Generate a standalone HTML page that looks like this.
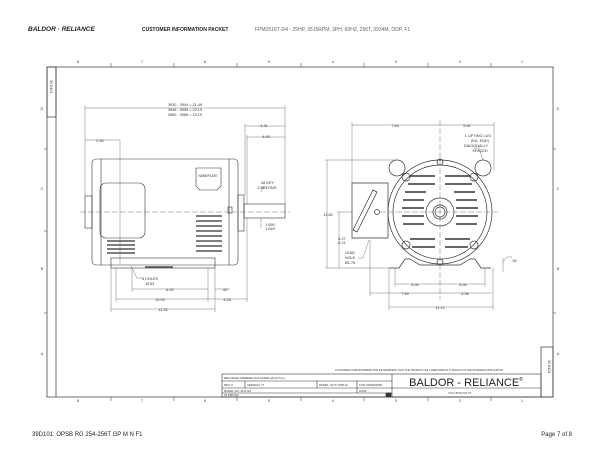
<!DOCTYPE html>
<html><head><meta charset="utf-8"><style>
html,body{margin:0;padding:0;background:#fff;}
svg{display:block;font-family:"Liberation Sans",sans-serif;}
</style></head><body>
<svg width="600" height="464" viewBox="0 0 600 464" xmlns="http://www.w3.org/2000/svg">
<!-- header -->
<text x="28" y="31" font-size="6.5" font-weight="bold" fill="#222" font-style="italic">BALDOR · RELIANCE</text>
<text x="142" y="31" font-size="5" font-weight="bold" fill="#222">CUSTOMER INFORMATION PACKET</text>
<text x="255" y="31" font-size="5" fill="#666">FPM2516T-2/4 - 25HP, 3515RPM, 3PH, 60HZ, 256T, 3934M, ODP, F1</text>
<!-- frame -->
<g stroke="#333" fill="none" stroke-width="0.7">
<rect x="47" y="67" width="506" height="330"/>
<line x1="56" y1="67" x2="56" y2="397"/>
<rect x="47" y="67" width="9" height="50"/>
<rect x="541" y="347" width="12" height="50"/>
</g>
<g stroke="#333" stroke-width="0.5">
<line x1="111" y1="63" x2="111" y2="67"/><line x1="174" y1="63" x2="174" y2="67"/><line x1="237" y1="63" x2="237" y2="67"/><line x1="301" y1="63" x2="301" y2="67"/><line x1="364" y1="63" x2="364" y2="67"/><line x1="428" y1="63" x2="428" y2="67"/><line x1="491" y1="63" x2="491" y2="67"/>
<line x1="111" y1="397" x2="111" y2="401"/><line x1="174" y1="397" x2="174" y2="401"/><line x1="237" y1="397" x2="237" y2="401"/><line x1="301" y1="397" x2="301" y2="401"/><line x1="364" y1="397" x2="364" y2="401"/><line x1="428" y1="397" x2="428" y2="401"/><line x1="491" y1="397" x2="491" y2="401"/>
<line x1="44" y1="149" x2="47" y2="149"/><line x1="44" y1="231" x2="47" y2="231"/><line x1="44" y1="313" x2="47" y2="313"/>
<line x1="553" y1="149" x2="556" y2="149"/><line x1="553" y1="231" x2="553" y2="231"/><line x1="553" y1="313" x2="556" y2="313"/>
</g>
<g font-size="4" fill="#444" text-anchor="middle">
<text x="78" y="63">8</text><text x="142" y="63">7</text><text x="205" y="63">6</text><text x="269" y="63">5</text><text x="333" y="63">4</text><text x="396" y="63">3</text><text x="460" y="63">2</text><text x="522" y="63">1</text>
<text x="78" y="402">8</text><text x="142" y="402">7</text><text x="205" y="402">6</text><text x="269" y="402">5</text><text x="333" y="402">4</text><text x="396" y="402">3</text><text x="460" y="402">2</text><text x="522" y="402">1</text>
<text x="42" y="110">D</text><text x="42" y="190">C</text><text x="42" y="270">B</text><text x="42" y="355">A</text>
<text x="558" y="110">D</text><text x="558" y="190">C</text><text x="558" y="270">B</text><text x="558" y="355">A</text>
</g>
<!-- left view -->
<g stroke="#333" fill="none" stroke-width="0.6">
<rect x="92" y="159" width="146" height="106" rx="4"/>
<line x1="101" y1="159" x2="101" y2="265"/><line x1="229" y1="159" x2="229" y2="265"/>
<rect x="85" y="196" width="7" height="32"/>
<rect x="238" y="195" width="6" height="36"/>
<rect x="244" y="204" width="41" height="14"/>
<rect x="100" y="183" width="45" height="55" rx="6"/>
<path d="M196 168 h25 v18 l-4 4 h-17 l-4 -4z"/>
<rect x="111" y="258" width="104" height="10"/>
<rect x="228" y="207" width="4" height="6"/>
</g>
<g stroke="#333" stroke-width="1.2">
<line x1="196" y1="216" x2="222" y2="216"/><line x1="196" y1="221" x2="222" y2="221"/><line x1="196" y1="226" x2="222" y2="226"/><line x1="196" y1="231" x2="222" y2="231"/><line x1="196" y1="236" x2="222" y2="236"/><line x1="196" y1="241" x2="222" y2="241"/><line x1="196" y1="246" x2="222" y2="246"/><line x1="196" y1="251" x2="222" y2="251"/>
<line x1="107" y1="241" x2="135" y2="241"/><line x1="107" y1="245" x2="135" y2="245"/><line x1="107" y1="249" x2="135" y2="249"/><line x1="107" y1="253" x2="135" y2="253"/>
<line x1="145" y1="267" x2="173" y2="267"/>
</g>
<g stroke="#555" stroke-width="0.4" fill="none">
<line x1="80" y1="212" x2="290" y2="212" stroke-dasharray="6,2"/>
<line x1="120" y1="140" x2="120" y2="265"/>
<line x1="85" y1="108" x2="285" y2="108"/><line x1="85" y1="105" x2="85" y2="196"/><line x1="285" y1="105" x2="285" y2="204"/>
<line x1="85" y1="140" x2="120" y2="140"/>
<line x1="245" y1="126" x2="285" y2="126"/><line x1="247" y1="137" x2="285" y2="137"/>
<line x1="245" y1="124" x2="245" y2="195"/><line x1="247" y1="135" x2="247" y2="204"/>
<line x1="132" y1="289" x2="208" y2="289"/><line x1="215" y1="289" x2="230" y2="289"/>
<line x1="116" y1="299" x2="208" y2="299"/><line x1="208" y1="299" x2="247" y2="299"/>
<line x1="111" y1="309" x2="215" y2="309"/>
<line x1="111" y1="268" x2="111" y2="312"/><line x1="116" y1="268" x2="116" y2="302"/><line x1="132" y1="268" x2="132" y2="292"/><line x1="208" y1="268" x2="208" y2="302"/><line x1="215" y1="268" x2="215" y2="312"/><line x1="247" y1="218" x2="247" y2="302"/>
<path d="M131 266 l6 12 h6"/><path d="M261 192 l2 -5 h5"/><line x1="261" y1="218" x2="261" y2="228"/>
</g>
<g font-size="3.8" fill="#333" text-anchor="middle">
<text x="185" y="106">3930 - 3944 = 21.49</text><text x="185" y="111">3946 - 3958 = 22.19</text><text x="185" y="116">3960 - 3966 = 23.19</text>
<text x="100" y="142">2.90</text><text x="264" y="127">4.31</text><text x="266" y="138">4.00</text>
<text x="267" y="184">.38 KEY</text><text x="267" y="189">2.88 LONG</text>
<text x="270" y="226">1.650</text><text x="270" y="230">1.649</text>
<text x="208" y="177" font-size="3.2">NAMEPLATE</text>
<text x="150" y="280">4 HOLES</text><text x="150" y="285">Ø.53</text>
<text x="170" y="291">6.32</text><text x="225" y="291">.60</text>
<text x="160" y="301">10.00</text><text x="227" y="301">4.25</text><text x="163" y="311">11.32</text>
</g>
<!-- right view -->
<g stroke="#333" fill="none" stroke-width="0.7">
<circle cx="440" cy="212" r="52"/><circle cx="440" cy="212" r="47"/>
<circle cx="440" cy="212" r="14"/><circle cx="440" cy="212" r="7"/><circle cx="440" cy="212" r="5"/>
<circle cx="397" cy="168" r="8"/><circle cx="483" cy="168" r="8"/>
<circle cx="406" cy="177" r="4"/><circle cx="474" cy="177" r="4"/><circle cx="406" cy="245" r="4"/><circle cx="474" cy="245" r="4"/>
<circle cx="440" cy="262" r="3"/><circle cx="440" cy="162" r="3"/>
<path d="M352 183 h36 v55 h-36z" rx="5"/>
<path d="M353 230 l20 -40 l4 2 l-20 40z"/>
<circle cx="377" cy="212" r="2.5"/>
<path d="M389 268 h10 l6 -9 h5 l10 6 h40 l10 -6 h5 l6 9 h10"/>
</g>
<g stroke="#333" stroke-width="1.4">
<line x1="410" y1="176" x2="435" y2="176"/><line x1="445" y1="176" x2="470" y2="176"/>
<line x1="408" y1="184" x2="435" y2="184"/><line x1="445" y1="184" x2="472" y2="184"/>
<line x1="405" y1="192" x2="426" y2="192"/><line x1="454" y1="192" x2="475" y2="192"/>
<line x1="403" y1="200" x2="424" y2="200"/><line x1="456" y1="200" x2="477" y2="200"/>
<line x1="402" y1="208" x2="424" y2="208"/><line x1="456" y1="208" x2="478" y2="208"/>
<line x1="402" y1="216" x2="424" y2="216"/><line x1="456" y1="216" x2="478" y2="216"/>
<line x1="403" y1="224" x2="424" y2="224"/><line x1="456" y1="224" x2="477" y2="224"/>
<line x1="410" y1="239" x2="435" y2="239"/><line x1="445" y1="239" x2="470" y2="239"/>
<line x1="412" y1="247" x2="435" y2="247"/><line x1="445" y1="247" x2="468" y2="247"/>
</g>
<g stroke="#555" stroke-width="0.4" fill="none">
<line x1="380" y1="212" x2="500" y2="212" stroke-dasharray="6,2"/>
<line x1="440" y1="120" x2="440" y2="300" stroke-dasharray="6,2"/>
<line x1="352" y1="125" x2="494" y2="125"/><line x1="352" y1="122" x2="352" y2="183"/><line x1="494" y1="122" x2="494" y2="170"/>
<line x1="327" y1="160" x2="327" y2="268"/><line x1="325" y1="160" x2="397" y2="160"/><line x1="325" y1="268" x2="389" y2="268"/>
<line x1="339" y1="212" x2="339" y2="268"/><line x1="337" y1="212" x2="352" y2="212"/>
<line x1="395" y1="284" x2="485" y2="284"/><line x1="370" y1="293" x2="440" y2="293"/><line x1="440" y1="293" x2="492" y2="293"/>
<line x1="389" y1="307" x2="493" y2="307"/>
<line x1="395" y1="268" x2="395" y2="287"/><line x1="485" y1="268" x2="485" y2="287"/><line x1="370" y1="240" x2="370" y2="296"/><line x1="389" y1="268" x2="389" y2="310"/><line x1="493" y1="268" x2="493" y2="310"/>
<path d="M369 240 l-6 18 h-5"/><path d="M483 160 l-4 -12 h-5"/>
<line x1="503" y1="258" x2="503" y2="272"/><path d="M503 262 l4 -5 h5"/>
</g>
<g font-size="3.8" fill="#333" text-anchor="middle">
<text x="395" y="127">7.64</text><text x="467" y="127">5.81</text>
<text x="478" y="137">1 LIFTING LUG</text><text x="480" y="142">(EA. END)</text><text x="476" y="147">DIAGONALLY</text><text x="480" y="152">SPACED</text>
<text x="328" y="216">13.80</text><text x="342" y="240">6.27</text><text x="342" y="244">6.21</text>
<text x="350" y="254">LEAD</text><text x="350" y="259">HOLE</text><text x="350" y="264">Ø1.75</text>
<text x="415" y="286">5.00</text><text x="463" y="286">5.00</text><text x="405" y="295">7.69</text><text x="465" y="295">5.58</text>
<text x="440" y="309">11.12</text><text x="514" y="262">.30</text>
</g>
<!-- title block -->
<g stroke="#333" fill="none" stroke-width="0.6">
<rect x="222" y="374" width="319" height="23"/>
<line x1="392" y1="374" x2="392" y2="397"/>
<line x1="222" y1="381" x2="392" y2="381"/><line x1="222" y1="388" x2="392" y2="388"/><line x1="222" y1="393" x2="392" y2="393"/>
<line x1="392" y1="388" x2="541" y2="388"/>
<line x1="245" y1="381" x2="245" y2="388"/><line x1="317" y1="381" x2="317" y2="388"/><line x1="357" y1="381" x2="357" y2="393"/>
<rect x="386" y="393" width="5" height="4" fill="#333"/>
</g>
<g font-size="2.8" fill="#333">
<text x="335" y="371" font-size="2.6">CUSTOMER IS RESPONSIBLE FOR DETERMINING THAT THE PRODUCT WILL PERFORM AS IT SHOULD IN THE INTENDED APPLICATION</text>
<text x="224" y="379">REV: BASE ORDERED W/A MODEL(2G+PT+G)</text>
<text x="224" y="386">REV: 9</text><text x="247" y="386">VERSION: 77</text><text x="319" y="386">MODEL: 0170 T008 A2</text><text x="359" y="386">TOR: 0000000000</text>
<text x="224" y="392">MODEL NO: 39 D101</text><text x="359" y="392">DATE: --</text>
<text x="224" y="396">39 DMF610</text>
<text x="448" y="394">XXX UPON DS-XT</text>
</g>
<text x="466" y="386" font-size="11" fill="#222" text-anchor="middle">BALDOR - RELIANCE<tspan font-size="5" dy="-5">®</tspan></text>
<text transform="translate(548,360) rotate(90)" font-size="3.5" fill="#333">39 D101</text>
<text transform="translate(50,80) rotate(90)" font-size="3.5" fill="#333">39 D101</text>
<!-- footer -->
<text x="32" y="436" font-size="6" fill="#222">39D101: OPSB RG 254-256T GP M N F1</text>
<text x="572" y="436" font-size="6" fill="#222" text-anchor="end">Page 7 of 8</text>
</svg>
</body></html>
